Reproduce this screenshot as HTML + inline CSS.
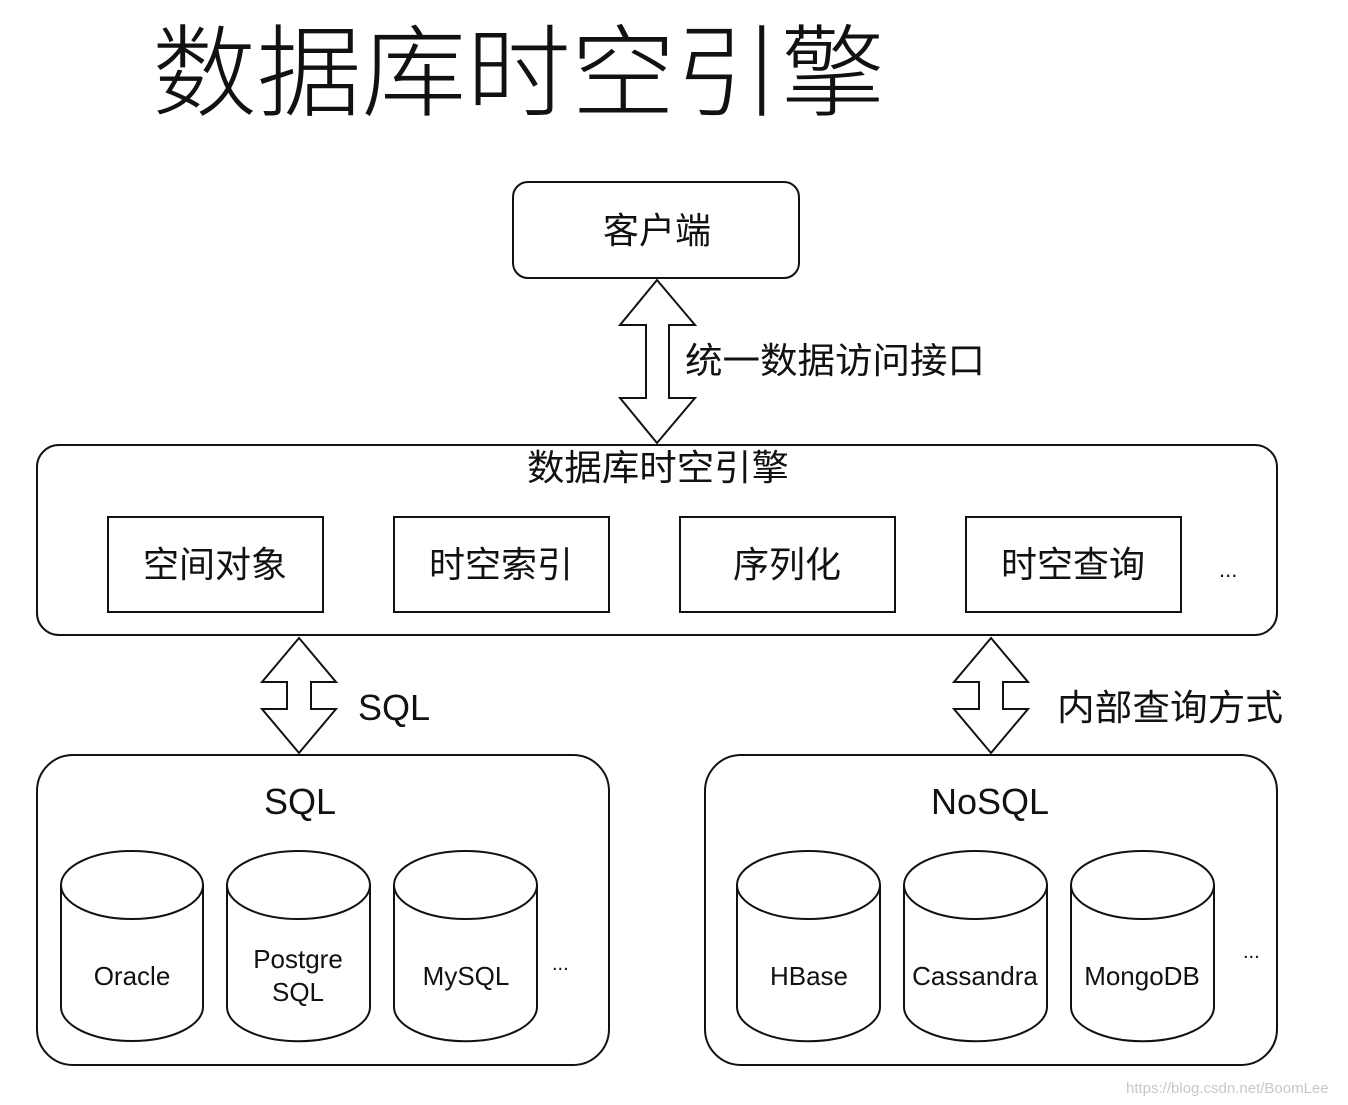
<!DOCTYPE html>
<html><head><meta charset="utf-8"><style>
html,body{margin:0;padding:0;background:#fff;}
svg{display:block;}
text{font-family:"Liberation Sans","Noto Sans CJK SC",sans-serif;fill:#111;}
</style></head><body>
<svg width="1348" height="1105" viewBox="0 0 1348 1105" xmlns="http://www.w3.org/2000/svg">
<g fill="none" stroke="#111" stroke-width="2">
<rect x="513" y="182" width="286" height="96" rx="15"/>
<rect x="37" y="445" width="1240" height="190" rx="22"/>
<rect x="108" y="517" width="215" height="95"/>
<rect x="394" y="517" width="215" height="95"/>
<rect x="680" y="517" width="215" height="95"/>
<rect x="966" y="517" width="215" height="95"/>
<rect x="37" y="755" width="572" height="310" rx="36"/>
<rect x="705" y="755" width="572" height="310" rx="36"/>
<path d="M657 280 L695 325 L669 325 L669 398 L695 398 L657 443 L620 398 L646 398 L646 325 L620 325 Z" fill="#fff"/>
<path d="M299 638 L336 682 L311 682 L311 709 L336 709 L299 753 L262 709 L287 709 L287 682 L262 682 Z" fill="#fff"/>
<path d="M991 638 L1028 682 L1003 682 L1003 709 L1028 709 L991 753 L954 709 L979 709 L979 682 L954 682 Z" fill="#fff"/>
</g>
<g fill="#fff" stroke="#111" stroke-width="2">
<path d="M61 885 L61 1007 A71 34 0 0 0 203 1007 L203 885"/><ellipse cx="132" cy="885" rx="71" ry="34"/>
<path d="M227 885 L227 1007 A71 34 0 0 0 370 1007 L370 885"/><ellipse cx="298.5" cy="885" rx="71.5" ry="34"/>
<path d="M394 885 L394 1007 A71 34 0 0 0 537 1007 L537 885"/><ellipse cx="465.5" cy="885" rx="71.5" ry="34"/>
<path d="M737 885 L737 1007 A71 34 0 0 0 880 1007 L880 885"/><ellipse cx="808.5" cy="885" rx="71.5" ry="34"/>
<path d="M904 885 L904 1007 A71 34 0 0 0 1047 1007 L1047 885"/><ellipse cx="975.5" cy="885" rx="71.5" ry="34"/>
<path d="M1071 885 L1071 1007 A71 34 0 0 0 1214 1007 L1214 885"/><ellipse cx="1142.5" cy="885" rx="71.5" ry="34"/>
</g>
<text x="152" y="108" font-size="100" font-weight="300" textLength="733" lengthAdjust="spacingAndGlyphs">数据库时空引擎</text>
<g font-size="36" text-anchor="middle">
<text x="657" y="243">客户端</text>
<text x="658" y="480" textLength="262" lengthAdjust="spacingAndGlyphs">数据库时空引擎</text>
<text x="215" y="577">空间对象</text>
<text x="501" y="577">时空索引</text>
<text x="787" y="577">序列化</text>
<text x="1073" y="577">时空查询</text>
<text x="300" y="814">SQL</text>
<text x="990" y="814">NoSQL</text>
</g>
<g font-size="36">
<text x="685" y="373" textLength="300" lengthAdjust="spacingAndGlyphs">统一数据访问接口</text>
<text x="358" y="720">SQL</text>
<text x="1057" y="720" textLength="226" lengthAdjust="spacingAndGlyphs">内部查询方式</text>
</g>
<text x="1219" y="577" font-size="22">...</text>
<g font-size="26" text-anchor="middle">
<text x="132" y="985">Oracle</text>
<text x="298" y="968">Postgre</text>
<text x="298" y="1001">SQL</text>
<text x="466" y="985">MySQL</text>
<text x="809" y="985">HBase</text>
<text x="975" y="985">Cassandra</text>
<text x="1142" y="985">MongoDB</text>
</g>
<text x="552" y="970" font-size="20">...</text>
<text x="1243" y="958" font-size="20">...</text>
<text x="1126" y="1093" font-size="15" style="fill:#c8c8c8">https://blog.csdn.net/BoomLee</text>
</svg>
</body></html>
